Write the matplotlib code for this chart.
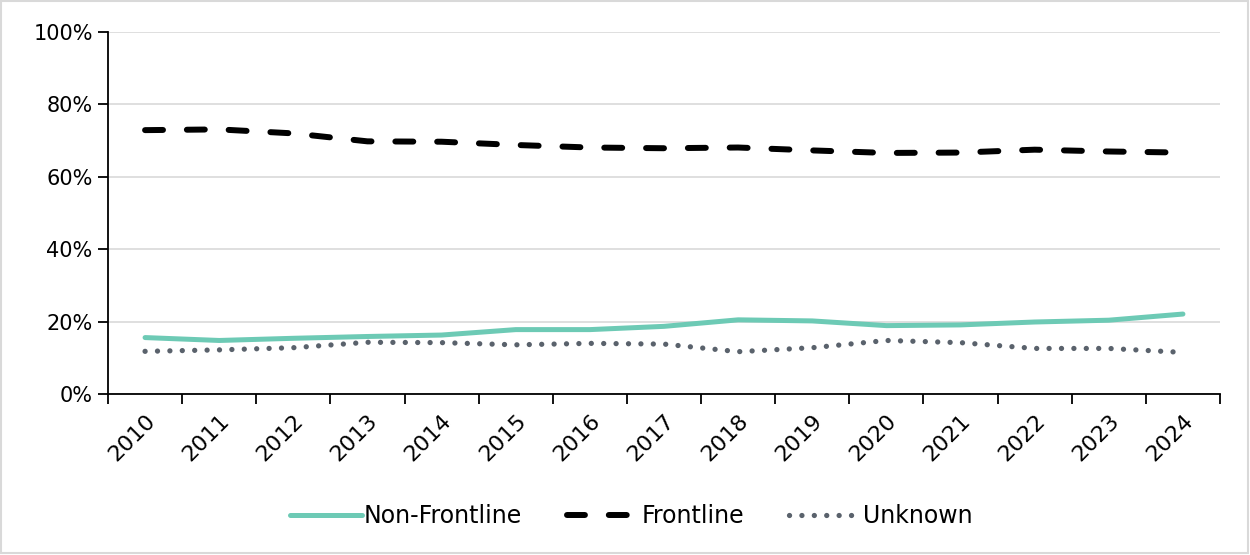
import matplotlib
matplotlib.use("Agg")
import matplotlib.pyplot as plt
from matplotlib.patches import Rectangle
from matplotlib.ticker import FixedLocator, PercentFormatter

years = [str(y) for y in range(2010, 2025)]
non_frontline = [15.6, 14.8, 15.4, 15.9, 16.3, 17.8, 17.8, 18.7, 20.5, 20.2, 18.9, 19.1, 19.9, 20.4, 22.1]
frontline = [72.9, 73.1, 72.0, 69.8, 69.7, 68.8, 68.1, 67.9, 68.1, 67.3, 66.6, 66.7, 67.5, 67.0, 66.7]
unknown = [11.8, 12.2, 12.8, 14.3, 14.2, 13.6, 14.0, 13.8, 11.7, 12.8, 14.8, 14.2, 12.6, 12.6, 11.5]

plt.rcParams['font.family'] = ['DejaVu Sans']

fig = plt.figure(figsize=(12.5, 5.55), dpi=100)
ax = fig.add_axes([0.0864, 0.29, 0.8896, 0.6523])

x = list(range(len(years)))

ax.plot(x, non_frontline, color='#6dcab5', lw=3.6, solid_capstyle='round',
        solid_joinstyle='round', label='Non-Frontline', zorder=3)
ax.plot(x, frontline, color='black', lw=4.3, dashes=(3.0, 4.0),
        dash_capstyle='round', label='Frontline', zorder=3)
ax.plot(x, unknown, color='#5a626c', lw=3.8, dashes=(0.01, 2.34),
        dash_capstyle='round', label='Unknown', zorder=3)

ax.set_xlim(-0.5, len(years) - 0.5)
ax.set_ylim(0, 100)
ax.set_yticks([0, 20, 40, 60, 80, 100])
ax.yaxis.set_major_formatter(PercentFormatter(decimals=0))
ax.grid(axis='y', color='#d9d9d9', lw=1.2, zorder=0)

# year labels sit at category centres, tick marks on the boundaries
ax.set_xticks(x)
ax.set_xticklabels(years, rotation=45, ha='right', rotation_mode='anchor')
ax.xaxis.set_minor_locator(FixedLocator([i - 0.5 for i in range(len(years) + 1)]))
ax.tick_params(axis='x', which='major', length=0, labelsize=16, pad=12)
ax.tick_params(axis='x', which='minor', length=7, width=1.3, direction='out')
ax.tick_params(axis='y', length=7, width=1.3, labelsize=15, pad=4)

for side in ['top', 'right']:
    ax.spines[side].set_visible(False)
for side in ['left', 'bottom']:
    ax.spines[side].set_linewidth(1.3)
    ax.spines[side].set_color('black')

fig.legend(loc='center', bbox_to_anchor=(0.505, 0.07), ncol=3, frameon=False,
           fontsize=17, handlelength=3.05, handletextpad=0.1, columnspacing=1.9)

fig.patches.append(Rectangle((0.001, 0.003), 0.997, 0.995, transform=fig.transFigure,
                             fill=False, edgecolor='#d9d9d9', lw=1.5))

fig.savefig('out.png', dpi=100)
